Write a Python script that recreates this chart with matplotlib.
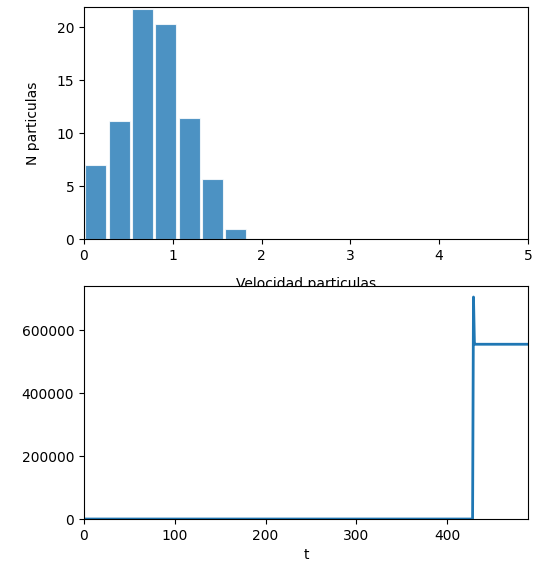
import numpy as np
import matplotlib
matplotlib.use("Agg")
import matplotlib.pyplot as plt

# histogram of particle speeds (bin edges + counts)
bin_edges = [0.0, 0.263, 0.526, 0.789, 1.052, 1.315, 1.578, 1.841]
counts = [6.95, 11.15, 21.75, 20.25, 11.4, 5.65, 0.98]

# time series: flat, spike, plateau
t = [0, 428, 429, 430, 431, 489]
valores = [0, 0, 705000, 560000, 555000, 555000]
yticks_t = [0, 200000, 400000, 600000]

fig = plt.figure(figsize=(5.36, 5.66), dpi=100)

ax1 = fig.add_axes([0.1567, 0.5777, 0.8283, 0.41])
centros = (np.array(bin_edges[:-1]) + np.array(bin_edges[1:])) / 2
ax1.hist(centros, bins=bin_edges, weights=counts, rwidth=0.9,
         color='#1f77b4', alpha=0.8, edgecolor='white', linewidth=0.8)
ax1.set_xlim(0, 5)
ax1.set_ylim(0, 21.9)
ax1.set_ylabel('N particulas', labelpad=12)
ax1.set_xlabel('Velocidad particulas', labelpad=10)

ax2 = fig.add_axes([0.1567, 0.083, 0.8283, 0.4117])
ax2.plot(t, valores, color='#1f77b4', linewidth=2)
ax2.set_xlim(0, 489)
ax2.set_ylim(0, 740000)
ax2.set_yticks(yticks_t)
ax2.set_xlabel('t')

fig.savefig('out.png', dpi=100)
